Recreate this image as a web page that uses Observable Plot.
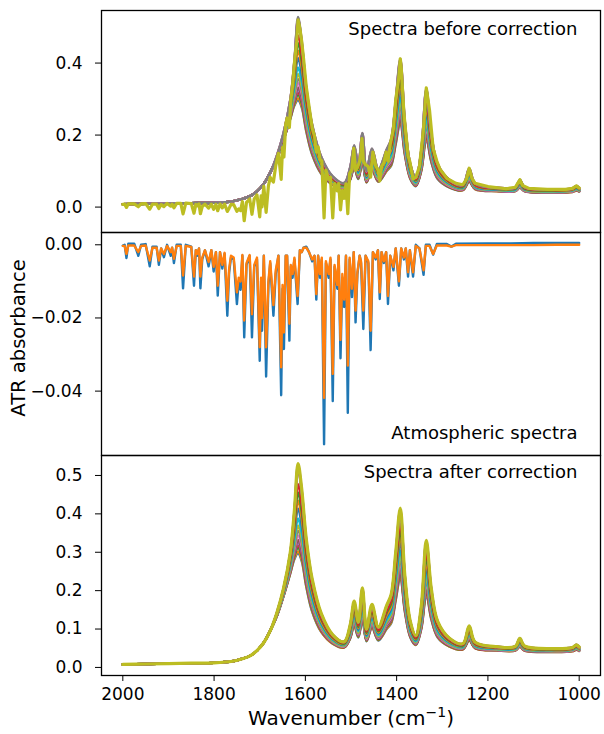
<!DOCTYPE html>
<html><head><meta charset="utf-8">
<script src="https://cdn.jsdelivr.net/npm/d3@7"></script>
<script src="https://cdn.jsdelivr.net/npm/@observablehq/plot@0.6"></script>
<style>
body{margin:0;background:#fff;}
#chart{width:604px;line-height:0;font-family:"DejaVu Sans";}
#chart svg{display:block;}
</style></head><body><div id="chart"></div>
<script>
// ---------- data ----------
const spectra = ["S01","S02","S03","S04","S05","S06","S07","S08","S09","S10","S11","S12","S13","S14","S15","S16","S17","S18","S19"];
const panelTitles = ["Spectra before correction", "Atmospheric spectra", "Spectra after correction"];
const yLabel = "ATR absorbance";
const xLabel = ["Wavenumber (cm", "\u22121", ")"];
const xTicks = [2000, 1800, 1600, 1400, 1200, 1000];
const topTicks = [0, 0.2, 0.4];
const midTicks = [0, -0.02, -0.04];
const bottomTicks = [0, 0.1, 0.2, 0.3, 0.4, 0.5];

// region where all corrected spectra coincide
const sharedWn  = [2000, 1950, 1900, 1850, 1800, 1760, 1740, 1720, 1705, 1691, 1676];
const sharedAbs = [.008, .009, .010, .011, .012, .016, .022, .031, .045, .065, .098];

// corrected spectra: each row = absorbance of the 19 spectra at afterWn[j]
const afterWn = [1662,1648,1633,1624,1616,1608,1598,1585,1565,1540,1515,1502,1493,1484,1475,1466,1454,1440,1422,1412,1402,1392,1382,1370,1358,1346,1335,1324,1310,1285,1255,1241,1228,1180,1140,1130,1120,1060,1015,1006,1000];
const afterAbs = [
 [.135,.135,.136,.136,.136,.136,.137,.137,.138,.139,.140,.140,.141,.142,.143,.144,.144,.144,.144],
 [.185,.185,.186,.187,.187,.188,.189,.190,.191,.193,.195,.197,.199,.200,.204,.204,.204,.205,.205],
 [.245,.246,.248,.250,.252,.253,.256,.259,.262,.266,.273,.278,.282,.287,.297,.298,.298,.299,.300],
 [.282,.285,.290,.294,.297,.301,.308,.314,.322,.332,.346,.358,.369,.381,.402,.404,.406,.408,.410],
 [.297,.302,.311,.318,.325,.332,.344,.356,.370,.388,.414,.435,.456,.477,.517,.521,.524,.528,.531],
 [.277,.281,.288,.294,.300,.305,.315,.324,.335,.350,.371,.388,.405,.422,.454,.457,.459,.462,.465],
 [.210,.213,.218,.221,.225,.229,.235,.241,.249,.259,.273,.284,.295,.306,.328,.329,.331,.333,.335],
 [.145,.147,.150,.153,.155,.158,.162,.166,.171,.178,.188,.195,.203,.211,.225,.226,.228,.229,.230],
 [.092,.093,.095,.096,.098,.099,.102,.104,.107,.111,.116,.120,.125,.129,.137,.138,.139,.139,.140],
 [.062,.062,.063,.064,.065,.066,.067,.068,.069,.071,.074,.076,.078,.080,.084,.084,.084,.085,.085],
 [.052,.052,.053,.053,.054,.054,.055,.056,.057,.058,.060,.061,.062,.064,.066,.066,.067,.067,.067],
 [.075,.076,.077,.078,.079,.080,.082,.084,.086,.089,.093,.096,.099,.102,.108,.108,.109,.110,.110],
 [.110,.111,.114,.116,.118,.120,.123,.126,.130,.135,.142,.147,.153,.159,.169,.170,.171,.172,.173],
 [.078,.079,.080,.082,.083,.084,.086,.088,.090,.094,.098,.102,.105,.109,.116,.116,.117,.117,.118],
 [.125,.127,.130,.132,.135,.137,.141,.146,.150,.157,.166,.173,.181,.188,.202,.203,.205,.206,.207],
 [.068,.069,.070,.071,.072,.073,.074,.076,.078,.081,.084,.087,.090,.093,.098,.099,.099,.100,.100],
 [.103,.104,.107,.109,.110,.112,.115,.118,.122,.127,.134,.139,.145,.150,.160,.161,.162,.163,.164],
 [.070,.071,.072,.073,.074,.075,.077,.079,.081,.084,.088,.091,.094,.097,.103,.103,.104,.105,.105],
 [.100,.101,.104,.106,.107,.109,.112,.115,.119,.124,.131,.136,.142,.147,.157,.158,.159,.160,.161],
 [.115,.117,.120,.122,.124,.126,.130,.134,.138,.144,.153,.159,.166,.173,.186,.187,.188,.189,.190],
 [.175,.178,.183,.186,.190,.194,.200,.206,.214,.224,.238,.249,.260,.271,.293,.294,.296,.298,.300],
 [.235,.239,.246,.251,.257,.262,.271,.280,.291,.305,.325,.341,.357,.374,.404,.407,.410,.412,.415],
 [.145,.147,.151,.154,.156,.159,.164,.169,.175,.182,.193,.201,.210,.218,.234,.236,.237,.239,.240],
 [.078,.079,.081,.082,.083,.084,.086,.089,.091,.094,.099,.103,.107,.110,.118,.118,.119,.119,.120],
 [.058,.059,.060,.060,.061,.062,.063,.064,.066,.068,.071,.073,.075,.077,.082,.082,.082,.083,.083],
 [.100,.101,.104,.105,.107,.109,.112,.115,.119,.123,.130,.135,.141,.146,.156,.157,.158,.159,.160],
 [.190,.193,.199,.203,.207,.211,.218,.225,.234,.245,.261,.273,.286,.299,.323,.325,.327,.329,.331],
 [.125,.127,.130,.132,.135,.137,.141,.145,.150,.156,.165,.172,.179,.187,.200,.201,.203,.204,.205],
 [.078,.079,.081,.082,.083,.084,.086,.089,.091,.094,.099,.103,.107,.110,.118,.118,.119,.119,.120],
 [.055,.055,.056,.057,.058,.058,.059,.061,.062,.064,.066,.068,.070,.072,.076,.076,.076,.077,.077],
 [.047,.047,.048,.048,.049,.049,.050,.051,.052,.053,.055,.056,.057,.059,.061,.061,.062,.062,.062],
 [.070,.071,.072,.073,.075,.076,.078,.080,.082,.085,.089,.092,.096,.099,.106,.106,.107,.107,.108],
 [.050,.050,.051,.051,.052,.052,.053,.054,.055,.056,.058,.059,.061,.062,.065,.065,.066,.066,.066],
 [.044,.044,.045,.045,.045,.046,.046,.047,.047,.048,.049,.050,.051,.052,.053,.054,.054,.054,.054],
 [.044,.044,.045,.045,.045,.046,.046,.047,.047,.048,.050,.051,.052,.053,.054,.055,.055,.055,.055],
 [.054,.054,.055,.056,.057,.057,.058,.060,.061,.063,.065,.067,.069,.071,.075,.075,.075,.076,.076],
 [.044,.044,.045,.045,.045,.046,.046,.047,.048,.049,.050,.051,.052,.053,.055,.056,.056,.056,.056],
 [.040,.040,.041,.041,.041,.041,.042,.042,.043,.044,.045,.045,.046,.047,.049,.049,.049,.049,.049],
 [.042,.042,.043,.043,.043,.044,.044,.045,.045,.046,.047,.048,.049,.050,.051,.052,.052,.052,.052],
 [.046,.046,.047,.047,.048,.048,.049,.049,.050,.051,.053,.054,.055,.056,.058,.058,.059,.059,.059],
 [.043,.043,.044,.044,.044,.045,.045,.046,.046,.047,.048,.049,.050,.051,.052,.053,.053,.053,.053]
];

// uncorrected spectrum with the strongest water-vapour lines (last spectrum)
const beforeWn = [
 2000,1996,1992,1988,1975,1966,1960,1950,1941,1935,
 1926,1921,1916,1910,1903,1895,1892,1888,1882,1873,
 1868,1862,1850,1844,1840,1837,1833,1830,1826,1820,
 1812,1806,1801,1796,1792,1787,1782,1777,1771,1767,
 1763,1757,1750,1746,1742,1738,1734,1729,1722,1717,
 1712,1706,1700,1697,1695,1691,1686,1681,1677,1670,
 1665,1659,1653,1650,1647,1643,1640,1635,1632,1628,
 1624,1619,1616,1612,1608,1604,1598,1592,1585,1580,
 1576,1572,1568,1564,1559,1555,1549,1545,1540,1536,
 1530,1527,1523,1519,1515,1511,1507,1503,1498,1494,
 1490,1486,1481,1478,1476,1473,1468,1462,1457,1452,
 1446,1441,1437,1433,1428,1423,1419,1414,1407,1402,
 1395,1392,1390,1384,1380,1375,1371,1364,1358,1350,
 1341,1335,1328,1320,1312,1305,1290,1270,1255,1247,
 1241,1235,1228,1200,1160,1140,1130,1124,1110,1070,
 1030,1015,1006,1000];
const beforeAbs = [
 .0075,.008,-.001,.009,.009,.001,.009,.0095,-.0058,.008,
 .008,-.004,.007,.0013,.010,.0025,.008,-.0023,.0104,.0105,
 -.019,.0108,.0098,-.017,.0073,.0037,.0087,-.0185,.0014,.0078,
 -.003,.008,-.0063,.0075,-.010,.0085,-.0023,.0083,-.012,-.003,
 .0073,.007,-.012,-.005,-.0098,.0155,-.038,.013,.0225,-.020,
 .023,.034,-.027,.031,.0003,.0575,-.015,.0585,.0825,.0695,
 .114,.1495,.077,.166,.139,.2295,.2475,.2215,.296,.3375,
 .40,.46,.52,.496,.46,.413,.334,.28,.219,.1975,
 .1525,.1675,.1325,.128,-.030,.1025,.0775,.083,-.030,.065,
 .045,.0655,-.0075,.0455,.0245,.0645,-.018,.093,.104,.163,
 .102,.11,.1275,.1525,.19,.1275,.1175,.1125,.083,.153,
 .115,.104,.073,.113,.1225,.153,.1275,.1745,.2175,.2975,
 .362,.412,.3875,.26,.2075,.143,.126,.078,.083,.1125,
 .2195,.331,.27,.163,.128,.105,.08,.066,.062,.078,
 .108,.08,.066,.057,.051,.055,.076,.06,.052,.049,
 .049,.052,.059,.053];

// atmospheric (water vapour) reference spectra
const atmWn = [
 2000,1996,1992,1988,1975,1966,1960,1950,1941,1935,
 1926,1921,1916,1910,1903,1895,1892,1888,1882,1873,
 1868,1862,1850,1844,1840,1837,1833,1830,1826,1820,
 1812,1806,1801,1796,1792,1787,1782,1777,1771,1767,
 1763,1757,1750,1746,1742,1738,1734,1729,1722,1717,
 1712,1706,1700,1697,1695,1691,1686,1681,1677,1670,
 1665,1659,1653,1650,1647,1643,1640,1635,1632,1628,
 1624,1617,1612,1608,1604,1598,1592,1585,1580,1576,
 1572,1568,1564,1559,1555,1549,1545,1540,1536,1530,
 1527,1523,1519,1515,1511,1507,1503,1498,1494,1490,
 1486,1481,1478,1473,1468,1462,1457,1452,1446,1441,
 1437,1433,1428,1423,1419,1414,1407,1402,1395,1390,
 1384,1380,1375,1371,1364,1358,1350,1341,1336,1328,
 1320,1312,1290,1280,1270,1200,1150,1100,1050,1000];
const atmBlue = [
 -.0002,0,-.0036,.0003,.0003,-.003,0,.0002,-.0059,-.0005,
 -.0005,-.0055,-.001,-.0034,0,-.003,-.0008,-.005,0,0,
 -.0119,0,-.0005,-.0112,-.0015,-.003,-.001,-.0119,-.004,-.0015,
 -.0059,-.0015,-.0073,-.002,-.0139,-.002,-.0065,-.0025,-.0194,-.0075,
 -.0035,-.004,-.0162,-.01,-.0123,-.003,-.0253,-.0055,-.003,-.0253,
 -.006,-.004,-.0317,-.01,-.0235,-.003,-.036,-.011,-.005,-.0194,
 -.008,-.003,-.0411,-.012,-.0285,-.003,-.003,-.0262,-.006,-.009,
 -.004,-.0162,-.0015,-.002,-.0008,-.0005,-.002,-.0045,-.003,-.015,
 -.003,-.009,-.004,-.0545,-.005,-.009,-.004,-.0427,-.006,-.012,
 -.003,-.031,-.009,-.017,-.003,-.0459,-.004,-.0143,-.002,-.0212,
 -.008,-.003,-.005,-.023,-.003,-.005,-.0288,-.002,-.004,-.0015,
 -.0148,-.002,-.005,-.002,-.0162,-.003,-.007,-.001,-.0112,-.001,
 -.004,-.001,-.0087,-.0015,-.0087,0,-.001,-.0082,0,0,
 -.0027,.0002,.0002,-.0005,.0003,.0004,.0004,.0005,.0005,.0005];
const atmOrange = [
 -.0003,-.0003,-.0025,-.0002,-.0002,-.002,-.0003,-.0002,-.0043,-.0008,
 -.0008,-.0043,-.001,-.0025,-.0003,-.002,-.0008,-.0038,-.0003,-.0003,
 -.0084,-.0003,-.0006,-.0087,-.0015,-.0025,-.001,-.0087,-.0035,-.0015,
 -.0047,-.0015,-.006,-.002,-.0112,-.002,-.0055,-.0022,-.0153,-.0065,
 -.003,-.0035,-.013,-.009,-.01,-.0028,-.0207,-.005,-.0028,-.019,
 -.0055,-.0035,-.028,-.009,-.02,-.003,-.028,-.01,-.0045,-.0165,
 -.007,-.003,-.0335,-.011,-.024,-.003,-.003,-.0216,-.0055,-.008,
 -.0035,-.014,-.0015,-.002,-.0008,-.0008,-.002,-.004,-.003,-.0135,
 -.003,-.008,-.0035,-.0418,-.0045,-.008,-.0035,-.0353,-.0055,-.011,
 -.003,-.026,-.008,-.015,-.003,-.033,-.0035,-.012,-.002,-.018,
 -.0075,-.003,-.0045,-.018,-.003,-.0045,-.0235,-.002,-.0035,-.0015,
 -.013,-.002,-.0045,-.002,-.014,-.003,-.006,-.001,-.01,-.001,
 -.0035,-.001,-.0075,-.0015,-.0075,-.0003,-.001,-.007,-.0003,-.0003,
 -.0025,-.0002,-.0002,-.0005,-.0001,-.0001,-.0001,-.0001,0,0];

// ---------- tables ----------
const tab10 = d3.schemeCategory10;
const colorRange = spectra.map((_, i) => tab10[i % 10]);
const lastId = spectra[spectra.length - 1];
const afterData = [];
spectra.forEach((s, i) => {
  sharedWn.forEach((w, j) => afterData.push({s, wn: w, a: sharedAbs[j]}));
  afterWn.forEach((w, j) => afterData.push({s, wn: w, a: afterAbs[j][i]}));
});
const beforeData = beforeWn.map((w, j) => ({s: lastId, wn: w, a: beforeAbs[j]}));
const atmData = atmWn.map((w, j) => ({wn: w, b: atmBlue[j], o: atmOrange[j]}));

// ---------- plots ----------
const xDomain = [2046.7, 953.3];
const baseStyle = {background: "transparent", overflow: "visible", display: "block",
  fontFamily: "DejaVu Sans", fontSize: "17px", color: "black"};
const common = {width: 604, marginLeft: 101, marginRight: 4, style: baseStyle};
const lw = 2.4, lwLast = 3.2;
const yAxis = (ticks, fmt) => Plot.axisY({ticks, tickFormat: d3.format(fmt), tickSize: 6, tickPadding: 13, fontSize: 17, label: null, stroke: "black"});
const frame = () => Plot.frame({stroke: "black", strokeWidth: 1.3});

const plotTop = Plot.plot({
  ...common, height: 232, marginTop: 10, marginBottom: 0,
  x: {domain: xDomain, axis: null},
  y: {domain: [-0.0706, 0.546], axis: null},
  color: {domain: spectra, range: colorRange},
  marks: [
    Plot.line(afterData.filter(d => d.s !== lastId), {x: "wn", y: "a", z: "s", stroke: "s", strokeWidth: lw, curve: "catmull-rom", clip: true}),
    Plot.line(beforeData, {x: "wn", y: "a", stroke: "s", strokeWidth: lwLast, curve: "linear", clip: true}),
    yAxis(topTicks, ".1f"),
    Plot.text([panelTitles[0]], {text: d => d, frameAnchor: "top-right", textAnchor: "end", lineAnchor: "middle", dx: -23, dy: 19, fontSize: 18, fill: "black"}),
    frame()
  ]
});

const plotMid = Plot.plot({
  ...common, height: 223, marginTop: 0, marginBottom: 0,
  x: {domain: xDomain, axis: null},
  y: {domain: [-0.0576, 0.00336], axis: null},
  marks: [
    Plot.line(atmData, {x: "wn", y: "b", stroke: tab10[0], strokeWidth: lw, clip: true}),
    Plot.line(atmData, {x: "wn", y: "o", stroke: tab10[1], strokeWidth: lw, clip: true}),
    yAxis(midTicks, ".2f"),
    Plot.text([panelTitles[1]], {text: d => d, frameAnchor: "bottom-right", textAnchor: "end", lineAnchor: "middle", dx: -23, dy: -22, fontSize: 18, fill: "black"}),
    frame()
  ]
});

const plotBottom = Plot.plot({
  ...common, height: 279, marginTop: 0, marginBottom: 59,
  x: {domain: xDomain, axis: null},
  y: {domain: [-0.021, 0.552], axis: null},
  color: {domain: spectra, range: colorRange},
  marks: [
    Plot.line(afterData.filter(d => d.s !== lastId), {x: "wn", y: "a", z: "s", stroke: "s", strokeWidth: lw, curve: "catmull-rom", clip: true}),
    Plot.line(afterData.filter(d => d.s === lastId), {x: "wn", y: "a", stroke: "s", strokeWidth: lwLast, curve: "catmull-rom", clip: true}),
    yAxis(bottomTicks, ".1f"),
    Plot.axisX({ticks: xTicks, tickFormat: d3.format("d"), tickSize: 6, tickPadding: 6, fontSize: 17, label: null, stroke: "black"}),
    Plot.text([panelTitles[2]], {text: d => d, frameAnchor: "top-right", textAnchor: "end", lineAnchor: "middle", dx: -23, dy: 17, fontSize: 18, fill: "black"}),
    frame()
  ]
});

const chartDiv = document.getElementById("chart");
chartDiv.append(plotTop, plotMid, plotBottom);

// y-axis title (centred on the middle panel)
d3.select(plotMid).append("text")
  .attr("transform", "translate(18,106) rotate(-90)")
  .attr("text-anchor", "middle").attr("dominant-baseline", "central")
  .attr("font-size", 19.5).attr("fill", "black").attr("font-family", "DejaVu Sans")
  .text(yLabel);

// x-axis title with superscript
const xt = d3.select(plotBottom).append("text")
  .attr("x", 351).attr("y", 270).attr("text-anchor", "middle")
  .attr("font-size", 20).attr("fill", "black").attr("font-family", "DejaVu Sans");
xt.append("tspan").text(xLabel[0]);
xt.append("tspan").attr("font-size", 14).attr("dy", -8).text(xLabel[1]);
xt.append("tspan").attr("font-size", 20).attr("dy", 8).text(xLabel[2]);
</script></body></html>
